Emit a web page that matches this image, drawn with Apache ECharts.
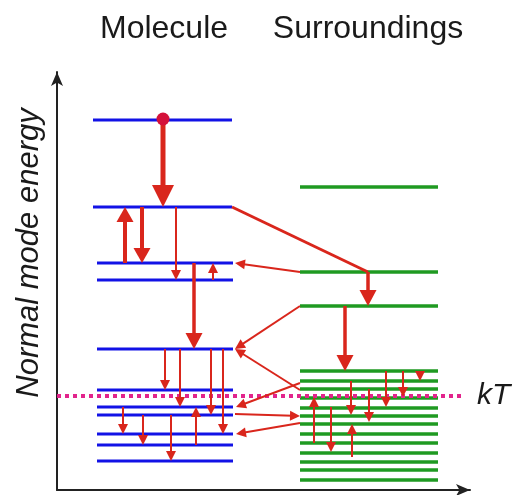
<!DOCTYPE html>
<html>
<head>
<meta charset="utf-8">
<script src="https://cdn.jsdelivr.net/npm/echarts@6/dist/echarts.min.js"></script>
<style>
html,body{margin:0;padding:0;background:#fff;}
#chart{width:517px;height:495px;}
</style>
</head>
<body>
<div id="chart"></div>
<script>
// ---------- DATA ----------
const columnTitles = ['Molecule', 'Surroundings'];
const axisTitle = 'Normal mode energy';
const thermalLabel = 'kT';
// energy levels (energy units)
const moleculeUpperLevels = [370, 283];
const moleculeLowerLevels = [227, 210, 141, 100, 83, 75, 56, 45, 29];
const surroundingLevels = [303, 218, 184, 119, 109, 101, 92, 82, 74, 66, 56, 47, 37, 28, 20, 10];
const kTEnergy = 94;
// horizontal spans of each column (x units)
const moleculeUpperSpan = [36, 175];
const moleculeLowerSpan = [40, 176];
const surroundingSpan = [243, 381];
const kTSpan = [0, 408];
// initially excited state
const excitedPoint = [[106, 371]];
// transitions [x1, E1, x2, E2]
const excitationDecay = [[106, 371, 106, 283]];
const strongTransitions = [[68, 227, 68, 283], [85, 283, 85, 227]];
const mediumTransitions = [[137, 227, 137, 141], [311, 218, 311, 184], [288, 184, 288, 119]];
const transferPath = [[175, 283, 311, 218]];
const weakTransitions = [
  [119, 283, 119, 210], [156, 210, 156, 227],
  [243, 218, 178, 227], [243, 184, 178, 141], [243, 100, 178, 141],
  [243, 107, 179, 83], [178, 76, 243, 74], [243, 67, 179, 56],
  [108, 141, 108, 100], [123, 141, 123, 83], [154, 141, 154, 75], [166, 141, 166, 56],
  [139, 45, 139, 83], [66, 83, 66, 56], [86, 75, 86, 45], [114, 75, 114, 29],
  [257, 47, 257, 93], [274, 83, 274, 38], [295, 33, 295, 66], [294, 109, 294, 75],
  [312, 101, 312, 68], [329, 119, 329, 83], [346, 119, 346, 93], [363, 119, 363, 109]
];

// ---------- STYLE ----------
const RED = '#d9261c';
const BLUE = '#1212e6';
const GREEN = '#1f9a22';
const MAGENTA = '#e2248c';
const FONT = "'Liberation Sans', Arial, sans-serif";

function levelSeries(levels, span, color, width) {
  return {
    type: 'custom',
    z: 2,
    silent: true,
    data: levels.map(e => [span[0], span[1], e]),
    renderItem: function (params, api) {
      const a = api.coord([api.value(0), api.value(2)]);
      const b = api.coord([api.value(1), api.value(2)]);
      return { type: 'line', shape: { x1: a[0], y1: a[1], x2: b[0], y2: b[1] },
               style: { stroke: color, lineWidth: width } };
    }
  };
}

function arrowSeries(data, width, headW, headL) {
  return {
    type: 'custom',
    z: 5,
    silent: true,
    data: data,
    renderItem: function (params, api) {
      const p1 = api.coord([api.value(0), api.value(1)]);
      const p2 = api.coord([api.value(2), api.value(3)]);
      const dx = p2[0] - p1[0], dy = p2[1] - p1[1];
      const len = Math.hypot(dx, dy) || 1;
      const ux = dx / len, uy = dy / len, px = -uy, py = ux;
      const children = [];
      const endS = headL ? [p2[0] - ux * headL * 0.7, p2[1] - uy * headL * 0.7] : p2;
      children.push({ type: 'line', shape: { x1: p1[0], y1: p1[1], x2: endS[0], y2: endS[1] },
                      style: { stroke: RED, lineWidth: width } });
      if (headL) {
        const bx = p2[0] - ux * headL, by = p2[1] - uy * headL;
        children.push({ type: 'polygon', shape: { points: [
          [p2[0], p2[1]],
          [bx + px * headW / 2, by + py * headW / 2],
          [bx - px * headW / 2, by - py * headW / 2]
        ] }, style: { fill: RED } });
      }
      return { type: 'group', children: children };
    }
  };
}

const chart = echarts.init(document.getElementById('chart'), null, { renderer: 'canvas' });
chart.setOption({
  animation: false,
  backgroundColor: '#fff',
  grid: { left: 57, right: 47, top: 72, bottom: 5 },
  xAxis: {
    type: 'value', min: 0, max: 413,
    axisLine: { show: true, onZero: false, symbol: ['none', 'arrow'], symbolSize: [9, 14],
                lineStyle: { color: '#222', width: 2 } },
    axisTick: { show: false }, axisLabel: { show: false }, splitLine: { show: false }
  },
  yAxis: {
    type: 'value', min: 0, max: 418,
    axisLine: { show: true, onZero: false, symbol: ['none', 'arrow'], symbolSize: [9, 14],
                lineStyle: { color: '#222', width: 2 } },
    axisTick: { show: false }, axisLabel: { show: false }, splitLine: { show: false }
  },
  graphic: [
    { type: 'text', x: 164, y: 29, style: { text: columnTitles[0], font: '32px ' + FONT, fill: '#1a1a1a', align: 'center', verticalAlign: 'middle' } },
    { type: 'text', x: 368, y: 29, style: { text: columnTitles[1], font: '32px ' + FONT, fill: '#1a1a1a', align: 'center', verticalAlign: 'middle' } },
    { type: 'text', x: 29, y: 253, rotation: Math.PI / 2, style: { text: axisTitle, font: 'italic 31px ' + FONT, fill: '#1a1a1a', align: 'center', verticalAlign: 'middle' } }
  ],
  series: [
    levelSeries(moleculeUpperLevels, moleculeUpperSpan, BLUE, 3),
    levelSeries(moleculeLowerLevels, moleculeLowerSpan, BLUE, 3),
    levelSeries(surroundingLevels, surroundingSpan, GREEN, 3.5),
    {
      type: 'line', z: 3, silent: true, symbol: 'none',
      data: [[kTSpan[0], kTEnergy], [kTSpan[1], kTEnergy]],
      lineStyle: { color: MAGENTA, width: 4, type: [4, 4], cap: 'butt' },
      endLabel: { show: true, formatter: thermalLabel, distance: 12,
                  fontFamily: FONT, fontSize: 30, fontStyle: 'italic', color: '#1a1a1a' }
    },
    arrowSeries(weakTransitions, 2, 10, 10),
    arrowSeries(mediumTransitions, 3.5, 17, 16),
    arrowSeries(strongTransitions, 4, 17, 15),
    arrowSeries(transferPath, 3, 0, 0),
    arrowSeries(excitationDecay, 5, 22, 22),
    {
      type: 'scatter', z: 8, silent: true, data: excitedPoint, symbolSize: 13,
      itemStyle: { color: '#d4113a', opacity: 1 }
    }
  ]
});
</script>
</body>
</html>
